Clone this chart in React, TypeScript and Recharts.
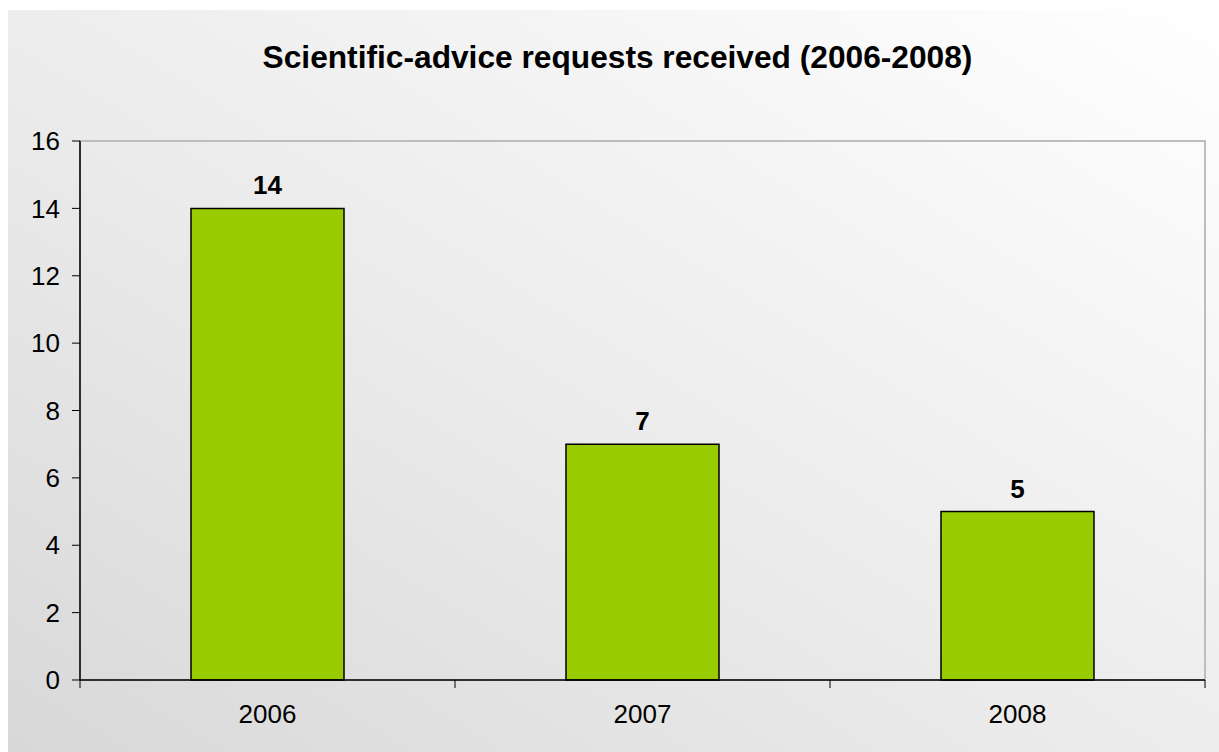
import { BarChart, Bar, XAxis, YAxis, LabelList, ReferenceArea } from "recharts";

const years = ["2006", "2007", "2008"];
const requests = [14, 7, 5];
const yTicks = [0, 2, 4, 6, 8, 10, 12, 14, 16];

const data = years.map((year, i) => ({ year, requests: requests[i] }));

const font = "'Liberation Sans', Arial, sans-serif";
const X_TICK_MARGIN = 19;

// category label plus the small tick marks on the category boundaries
function YearTick(props: any) {
  const { x, y, payload, index, visibleTicksCount } = props;
  const half = payload.offset ?? 0;
  const axisY = y - X_TICK_MARGIN - 6; // 6 = default tickSize
  const isLast = index === visibleTicksCount - 1;
  return (
    <g>
      <line x1={x - half} x2={x - half} y1={axisY} y2={axisY + 8} stroke="#000" />
      {isLast && <line x1={x + half} x2={x + half} y1={axisY} y2={axisY + 8} stroke="#000" />}
      <text x={x} y={y} dy="0.71em" textAnchor="middle" fontSize={26} fill="#000" fontFamily={font}>
        {payload.value}
      </text>
    </g>
  );
}

export default function App() {
  return (
    <div style={{ position: "absolute", left: 0, top: 0, width: 1219, height: 752, background: "#fff" }}>
      <div
        style={{
          position: "absolute",
          left: 8,
          top: 10,
          width: 1211,
          height: 742,
          background: "linear-gradient(to top right, #d8d8d8 0%, #ebebeb 45%, #ffffff 100%)",
          fontFamily: font,
        }}
      >
        {/* TITLE */}
        <div
          style={{
            position: "absolute",
            top: 29,
            left: 4,
            width: "100%",
            textAlign: "center",
            fontSize: 31.7,
            lineHeight: "36px",
            fontWeight: "bold",
            color: "#000",
          }}
        >
          Scientific-advice requests received (2006-2008)
        </div>

        <BarChart
          width={1211}
          height={742}
          data={data}
          margin={{ top: 131, right: 14, bottom: 27, left: 0 }}
          barCategoryGap="29.6%"
        >
          {/* plot border (top / right) */}
          <ReferenceArea yAxisId="y" xAxisId="cat" y1={0} y2={16} fill="none" stroke="#bdbdbd" strokeWidth={2} ifOverflow="visible" />

          <XAxis
            xAxisId="cat"
            dataKey="year"
            tickLine={false}
            axisLine={{ stroke: "#000", strokeWidth: 1.5 }}
            tick={<YearTick />}
            tickMargin={X_TICK_MARGIN}
            height={45}
          />
          <YAxis
            yAxisId="y"
            domain={[0, 16]}
            ticks={yTicks}
            width={72}
            tickSize={8}
            tickMargin={12}
            tickLine={{ stroke: "#000" }}
            axisLine={{ stroke: "#000", strokeWidth: 1.5 }}
            tick={{ fontSize: 26, fill: "#000", fontFamily: font }}
          />

          <Bar
            xAxisId="cat"
            yAxisId="y"
            dataKey="requests"
            fill="#99cc00"
            stroke="#000"
            strokeWidth={1.5}
            isAnimationActive={false}
          >
            <LabelList
              dataKey="requests"
              position="top"
              offset={14}
              style={{ fontSize: 26, fontWeight: "bold", fill: "#000", fontFamily: font }}
            />
          </Bar>
        </BarChart>
      </div>
    </div>
  );
}
